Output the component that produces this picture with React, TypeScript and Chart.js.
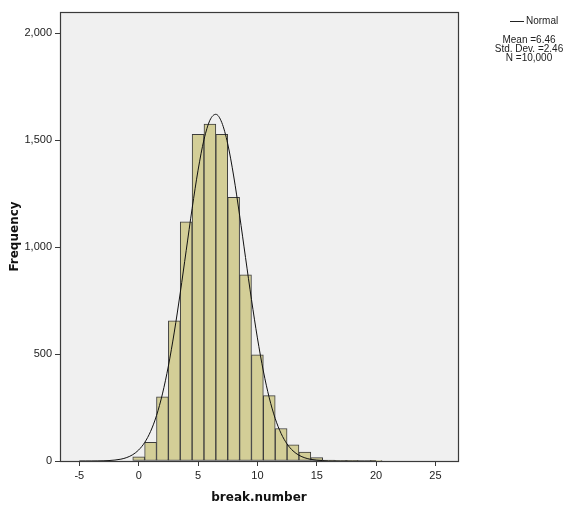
import { useEffect, useRef } from "react";
import { Chart, registerables } from "chart.js";

Chart.register(...registerables);

// Histogram bins (centre of each unit-wide bin) and frequencies
const binCenters = [0, 1, 2, 3, 4, 5, 6, 7, 8, 9, 10, 11, 12, 13, 14, 15, 16, 17, 18, 19, 20];
const frequencies = [20, 87, 300, 656, 1119, 1528, 1576, 1528, 1233, 871, 497, 306, 152, 76, 42, 16, 4, 2, 1, 0, 1];

// Normal curve, read at half-unit steps
const curveX = [
  -5, -4.5, -4, -3.5, -3, -2.5, -2, -1.5, -1, -0.5, 0, 0.5, 1, 1.5, 2, 2.5, 3, 3.5, 4, 4.5, 5, 5.5, 6, 6.5,
  7, 7.5, 8, 8.5, 9, 9.5, 10, 10.5, 11, 11.5, 12, 12.5, 13, 13.5, 14, 14.5, 15, 15.5, 16, 16.5, 17, 17.5,
  18, 18.5, 19, 19.5, 20,
];
const curveY = [
  0.03, 0.08, 0.19, 0.45, 1.0, 2.1, 4.4, 8.6, 16.3, 29.6, 51.6, 86.2, 138.2, 212.4, 313.7, 443.9, 603.1,
  786.2, 983.6, 1180.6, 1359.8, 1502.8, 1593.7, 1621.5, 1583.1, 1483.1, 1333.0, 1149.8, 951.6, 755.7, 575.9,
  421.0, 295.3, 198.8, 128.4, 79.6, 47.3, 27.0, 14.8, 7.8, 3.9, 1.9, 0.9, 0.4, 0.17, 0.07, 0.03, 0.01, 0, 0, 0,
];

const xTicks = [-5, 0, 5, 10, 15, 20, 25];
const yTicks = [0, 500, 1000, 1500, 2000];
const xTitle = "break.number";
const yTitle = "Frequency";
const legendLabel = "Normal";
const legendStats = ["Mean =6.46", "Std. Dev. =2.46", "N =10,000"];

const TEXT = "#222222";
const AXIS = "#3a3a3a";
const SANS = "'Liberation Sans', Arial, sans-serif";
const TITLE_FONT = "bold 12px 'DejaVu Sans', Verdana, sans-serif";

const spssPlugin = {
  id: "spssDecor",
  beforeDraw(chart: any) {
    const { ctx, chartArea, width, height } = chart;
    ctx.save();
    ctx.fillStyle = "#ffffff";
    ctx.fillRect(0, 0, width, height);
    ctx.fillStyle = "#f0f0f0";
    ctx.fillRect(chartArea.left, chartArea.top, chartArea.right - chartArea.left, chartArea.bottom - chartArea.top);
    ctx.restore();
  },
  afterDraw(chart: any) {
    const { ctx, chartArea } = chart;
    ctx.save();
    // frame
    ctx.strokeStyle = AXIS;
    ctx.lineWidth = 1.2;
    ctx.strokeRect(
      Math.round(chartArea.left) + 0.5,
      Math.round(chartArea.top) + 0.5,
      Math.round(chartArea.right - chartArea.left),
      Math.round(chartArea.bottom - chartArea.top)
    );
    // axis titles
    ctx.fillStyle = "#111111";
    ctx.font = TITLE_FONT;
    ctx.textAlign = "center";
    ctx.textBaseline = "middle";
    ctx.fillText(xTitle, (chartArea.left + chartArea.right) / 2, 498);
    ctx.save();
    ctx.translate(15, (chartArea.top + chartArea.bottom) / 2);
    ctx.rotate(-Math.PI / 2);
    ctx.fillText(yTitle, 0, 0);
    ctx.restore();
    // legend
    ctx.strokeStyle = "#222222";
    ctx.lineWidth = 1;
    ctx.beginPath();
    ctx.moveTo(510, 21.5);
    ctx.lineTo(524, 21.5);
    ctx.stroke();
    ctx.fillStyle = TEXT;
    ctx.font = `10px ${SANS}`;
    ctx.textAlign = "left";
    ctx.fillText(legendLabel, 526, 21.5);
    ctx.textAlign = "center";
    legendStats.forEach((s, i) => ctx.fillText(s, 529, 40.5 + i * 9));
    ctx.restore();
  },
};

export default function App() {
  const ref = useRef<HTMLCanvasElement | null>(null);

  useEffect(() => {
    if (!ref.current) return;
    const chart = new Chart(ref.current, {
      type: "bar",
      data: {
        datasets: [
          {
            type: "line",
            label: legendLabel,
            data: curveX.map((x, i) => ({ x, y: curveY[i] })),
            borderColor: "#111111",
            borderWidth: 1,
            pointRadius: 0,
            fill: false,
            cubicInterpolationMode: "monotone",
            order: 0,
          } as any,
          {
            type: "bar",
            label: "break.number",
            data: binCenters.map((x, i) => ({ x, y: frequencies[i] })),
            backgroundColor: "#d3ce97",
            borderColor: "#3c3c3c",
            borderWidth: 1,
            borderSkipped: false,
            barPercentage: 1,
            categoryPercentage: 1,
            grouped: false,
            order: 1,
          } as any,
        ],
      },
      options: {
        animation: false,
        responsive: false,
        devicePixelRatio: 1,
        layout: { padding: { top: 12, right: 108, left: 0, bottom: 0 } },
        plugins: { legend: { display: false }, tooltip: { enabled: false } },
        scales: {
          x: {
            type: "linear",
            min: -6.63,
            max: 26.9,
            offset: false,
            afterBuildTicks: (scale: any) => {
              scale.ticks = xTicks.map((v) => ({ value: v }));
            },
            afterFit: (scale: any) => {
              scale.height = 51;
            },
            grid: {
              offset: false,
              drawOnChartArea: false,
              drawTicks: true,
              tickLength: 5,
              color: AXIS,
              lineWidth: 1,
            },
            border: { display: true, color: AXIS, width: 1 },
            ticks: {
              color: TEXT,
              font: { family: SANS, size: 11 },
              padding: 3,
              maxRotation: 0,
              autoSkip: false,
              callback: (v: any) => String(v),
            },
          },
          y: {
            type: "linear",
            min: 0,
            max: 2100,
            afterBuildTicks: (scale: any) => {
              scale.ticks = yTicks.map((v) => ({ value: v }));
            },
            afterFit: (scale: any) => {
              scale.width = 60;
            },
            grid: {
              drawOnChartArea: false,
              drawTicks: true,
              tickLength: 5,
              color: AXIS,
              lineWidth: 1,
            },
            border: { display: true, color: AXIS, width: 1 },
            ticks: {
              color: TEXT,
              font: { family: SANS, size: 11 },
              padding: 3,
              autoSkip: false,
              callback: (v: any) => Number(v).toLocaleString("en-US"),
            },
          },
        },
      },
      plugins: [spssPlugin],
    });
    return () => chart.destroy();
  }, []);

  return (
    <div style={{ position: "fixed", left: 0, top: 0, width: 566, height: 512, background: "#fff" }}>
      <canvas ref={ref} width={566} height={512} style={{ display: "block", width: 566, height: 512 }} />
    </div>
  );
}
